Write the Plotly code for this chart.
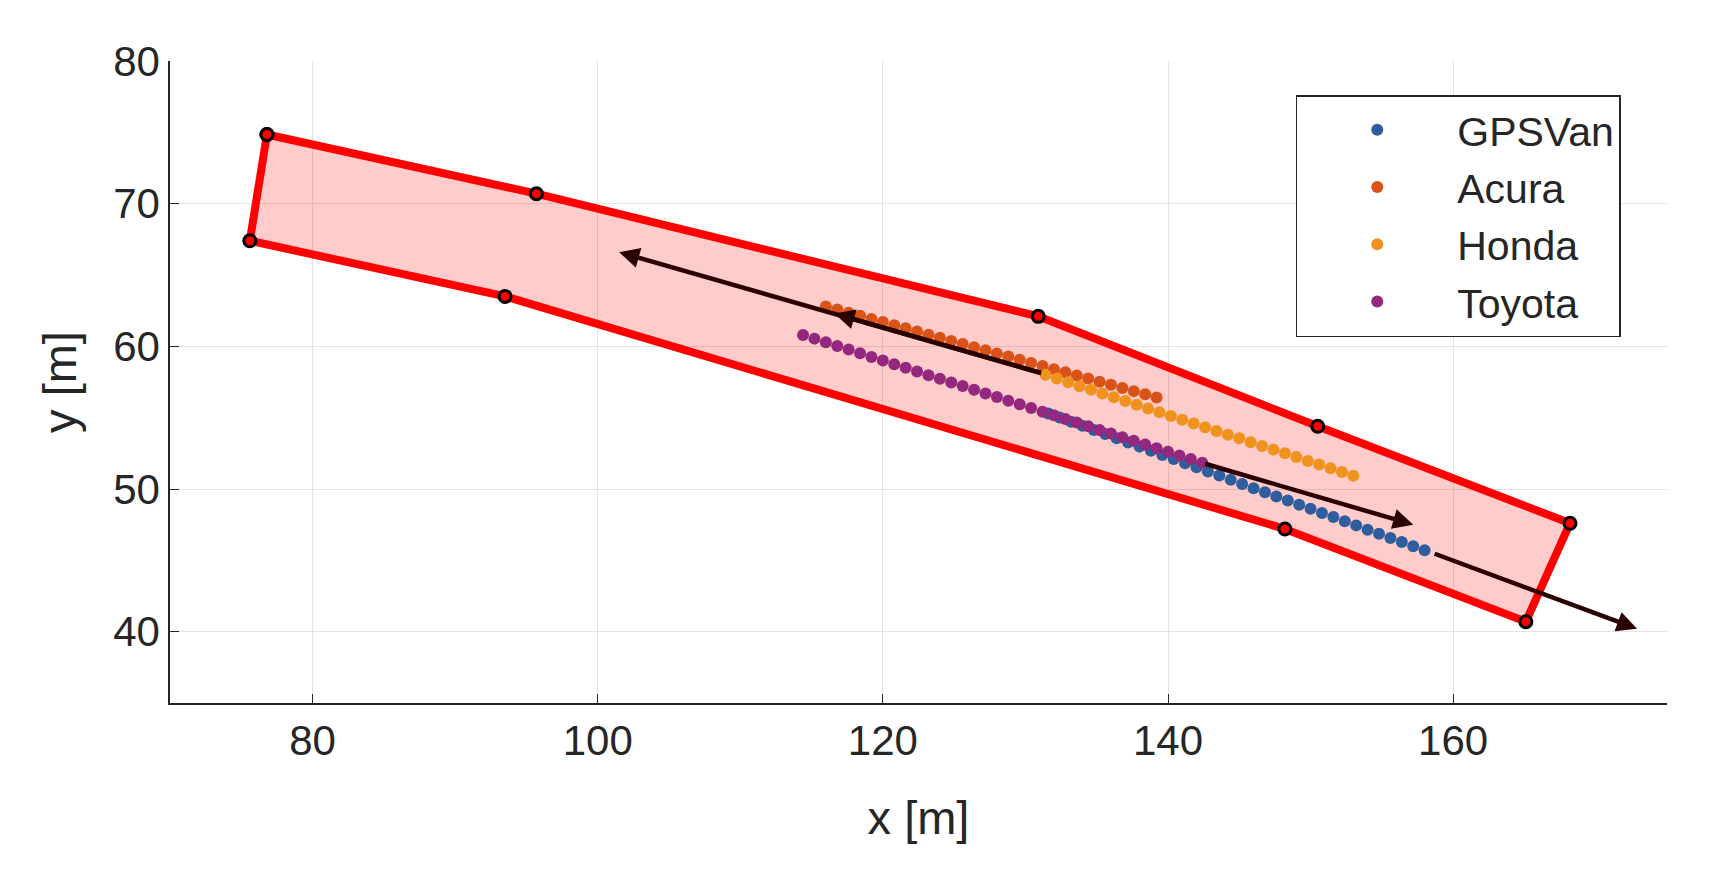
import plotly.graph_objects as go

poly_x = [76.8, 95.7, 130.9, 150.5, 168.2, 165.1, 148.2, 93.5, 75.6, 76.8]
poly_y = [74.85, 70.7, 62.1, 54.4, 47.6, 40.7, 47.2, 63.5, 67.4, 74.85]

acura_x = [116.0,116.8,117.6,118.4,119.2,120.0,120.8,121.6,122.4,123.2,124.0,124.8,125.6,126.4,127.2,128.0,128.8,129.6,130.4,131.2,132.0,132.8,133.6,134.4,135.2,136.0,136.8,137.6,138.4,139.2]
acura_y = [62.80,62.58,62.36,62.14,61.92,61.70,61.48,61.26,61.04,60.82,60.60,60.38,60.16,59.94,59.72,59.50,59.28,59.06,58.84,58.62,58.40,58.18,57.96,57.74,57.52,57.30,57.08,56.86,56.64,56.42]
honda_x = [131.4,132.2,133.0,133.8,134.6,135.4,136.2,137.0,137.8,138.6,139.4,140.2,141.0,141.8,142.6,143.4,144.2,145.0,145.8,146.6,147.4,148.2,149.0,149.8,150.6,151.4,152.2,153.0]
honda_y = [58.00,57.74,57.48,57.21,56.95,56.69,56.43,56.17,55.90,55.64,55.38,55.12,54.86,54.59,54.33,54.07,53.81,53.55,53.28,53.02,52.76,52.50,52.24,51.97,51.71,51.45,51.19,50.93]
toyota_x = [114.4,115.2,116.0,116.8,117.6,118.4,119.2,120.0,120.8,121.6,122.4,123.2,124.0,124.8,125.6,126.4,127.2,128.0,128.8,129.6,130.4,131.2,132.0,132.8,133.6,134.4,135.2,136.0,136.8,137.6,138.4,139.2,140.0,140.8,141.6,142.4]
toyota_y = [60.80,60.54,60.29,60.03,59.78,59.52,59.26,59.01,58.75,58.50,58.24,57.98,57.73,57.47,57.22,56.96,56.70,56.45,56.19,55.94,55.68,55.42,55.17,54.91,54.66,54.40,54.14,53.89,53.63,53.38,53.12,52.86,52.61,52.35,52.10,51.84]
gps_x = [131.6,132.4,133.2,134.0,134.8,135.6,136.4,137.2,138.0,138.8,139.6,140.4,141.2,142.0,142.8,143.6,144.4,145.2,146.0,146.8,147.6,148.4,149.2,150.0,150.8,151.6,152.4,153.2,154.0,154.8,155.6,156.4,157.2,158.0]
gps_y = [55.30,55.01,54.72,54.43,54.14,53.85,53.55,53.26,52.97,52.68,52.39,52.10,51.81,51.52,51.23,50.94,50.64,50.35,50.06,49.77,49.48,49.19,48.90,48.61,48.32,48.03,47.74,47.45,47.15,46.86,46.57,46.28,45.99,45.70]

# arrows: (start_x, start_y, end_x, end_y)
arrows = [
    (131.2, 58.1, 101.5, 66.6),
    (131.2, 58.1, 116.6, 62.3),
    (142.5, 51.8, 157.2, 47.5),
    (158.6, 45.5, 172.9, 40.2),
]

FONT = "Liberation Sans, Arial"
TXT = "#262626"

fig = go.Figure()
fig.add_trace(go.Scatter(x=poly_x, y=poly_y, mode="lines+markers", fill="toself",
                         fillcolor="rgba(255,0,0,0.2)", line=dict(color="#FF0000", width=8),
                         marker=dict(color="#FF0000", size=12, line=dict(color="black", width=3)),
                         showlegend=False, hoverinfo="skip"))
for name, xs, ys, col in [("GPSVan", gps_x, gps_y, "#2F5E9E"),
                          ("Acura", acura_x, acura_y, "#D95319"),
                          ("Honda", honda_x, honda_y, "#F0921E"),
                          ("Toyota", toyota_x, toyota_y, "#93287E")]:
    fig.add_trace(go.Scatter(x=xs, y=ys, mode="markers", name=name, legendgroup=name,
                             marker=dict(color=col, size=12)))

for sx, sy, ex, ey in arrows:
    fig.add_annotation(x=ex, y=ey, ax=sx, ay=sy, xref="x", yref="y", axref="x", ayref="y",
                       showarrow=True, arrowhead=2, arrowsize=0.9, arrowwidth=4.5,
                       arrowcolor="#2A0000", text="")

axis_common = dict(showgrid=True, gridcolor="#E3E3E3", gridwidth=1, zeroline=False,
                   showline=True, linecolor=TXT, linewidth=1.5, ticks="inside",
                   ticklen=9, tickcolor=TXT,
                   tickfont=dict(family=FONT, size=42, color=TXT))
fig.update_xaxes(range=[70, 175], dtick=20, tick0=80,
                 title=dict(text="x [m]", font=dict(family=FONT, size=47, color=TXT), standoff=38),
                 **axis_common)
fig.update_yaxes(range=[35, 80], dtick=10, tick0=40,
                 title=dict(text="y [m]", font=dict(family=FONT, size=47, color=TXT), standoff=22),
                 **axis_common)
fig.update_layout(width=1716, height=884, plot_bgcolor="white", paper_bgcolor="white",
                  margin=dict(l=162, r=57, t=53, b=189),
                  legend=dict(x=0.752, y=0.947, xanchor="left", yanchor="top",
                              bgcolor="white", bordercolor=TXT, borderwidth=1.5,
                              font=dict(family=FONT, size=41, color=TXT),
                              itemsizing="constant", itemwidth=150, tracegroupgap=1))
fig.write_html("out.html")
